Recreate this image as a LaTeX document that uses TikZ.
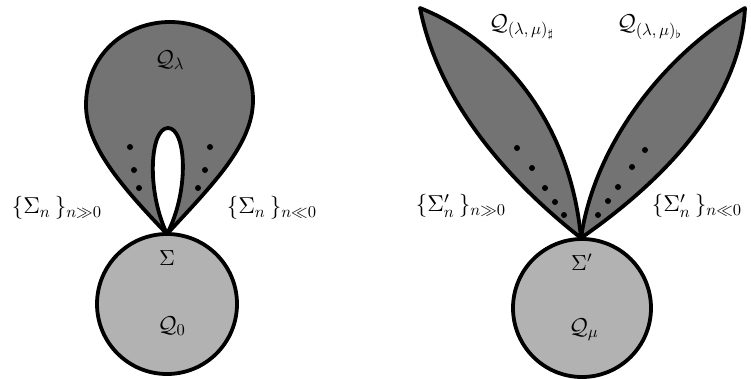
\documentclass[tikz,border=0pt]{standalone}
\usepackage{amsmath,amssymb,graphicx}
\newcommand{\bsub}[1]{_{\scalebox{0.72}{$\textstyle #1$}}}
\begin{document}
\begin{tikzpicture}[x=1pt,y=-1pt,
  outl/.style={line width=3.8pt,line join=round},
  leaf/.style={outl,fill=black!55},
  disc/.style={outl,fill=black!30},
  pt/.style={circle,fill=black,inner sep=0pt,minimum size=6pt},
  lbl/.style={scale=2.3,inner sep=0pt}]
\useasboundingbox (0,0) rectangle (751,378);
% ---------- left figure ----------
\coordinate (P1) at (167,234);
\draw[leaf] (P1) .. controls (120,185) and (86,145) .. (86,105)
  .. controls (86,55) and (125,22) .. (170,22)
  .. controls (215,22) and (253,55) .. (253,100)
  .. controls (253,145) and (212,185) .. (P1) -- cycle;
\draw[outl,fill=white] (P1) .. controls (146,190) and (150,128) .. (168,128)
  .. controls (186,128) and (190,190) .. (P1) -- cycle;
\draw[disc] (167,304) circle[radius=70];
\foreach \p in {(130,147),(134,170),(139,188)} \node[pt] at \p {};
\foreach \p in {(210,147),(205,170),(198,188)} \node[pt] at \p {};
\node[lbl] (ql) at (170,60) {$\mathcal{Q}\bsub{\lambda}$};
\node[lbl] (sl) at (57,208) {$\{\Sigma\bsub{n}\,\}\bsub{n{\gg}0}$};
\node[lbl] (sr) at (272,208) {$\{\Sigma\bsub{n}\,\}\bsub{n{\ll}0}$};
\node[lbl,scale=0.95] (s0) at (167,258) {$\Sigma$};
\node[lbl] (q0) at (172,326) {$\mathcal{Q}\bsub{0}$};
% ---------- right figure ----------
\coordinate (P2) at (581,238);
\coordinate (T1) at (420,8);
\coordinate (T2) at (745,8);
\draw[leaf] (P2) .. controls (520,190) and (440,110) .. (T1)
  .. controls (500,40) and (570,120) .. (P2) -- cycle;
\draw[leaf] (P2) .. controls (595,140) and (670,50) .. (T2)
  .. controls (740,110) and (650,190) .. (P2) -- cycle;
\draw[disc] (582,308) circle[radius=69];
\foreach \p in {(517,148),(532,168),(545,188),(555,202),(564,215)} \node[pt] at \p {};
\foreach \p in {(645,150),(632,167),(618,187),(608,201),(598,215)} \node[pt] at \p {};
\node[lbl] (qs) at (522,27) {$\mathcal{Q}\bsub{(\lambda,\mu)_\sharp}$};
\node[lbl] (qf) at (650,27) {$\mathcal{Q}\bsub{(\lambda,\mu)_\flat}$};
\node[lbl] (tl) at (461,206) {$\{\Sigma'\bsub{n}\,\}\bsub{n{\gg}0}$};
\node[lbl] (tr) at (697,206) {$\{\Sigma'\bsub{n}\,\}\bsub{n{\ll}0}$};
\node[lbl,scale=0.95] (s1) at (582,262) {$\Sigma'$};
\node[lbl] (qm) at (584,330) {$\mathcal{Q}\bsub{\mu}$};
\end{tikzpicture}
\end{document}
